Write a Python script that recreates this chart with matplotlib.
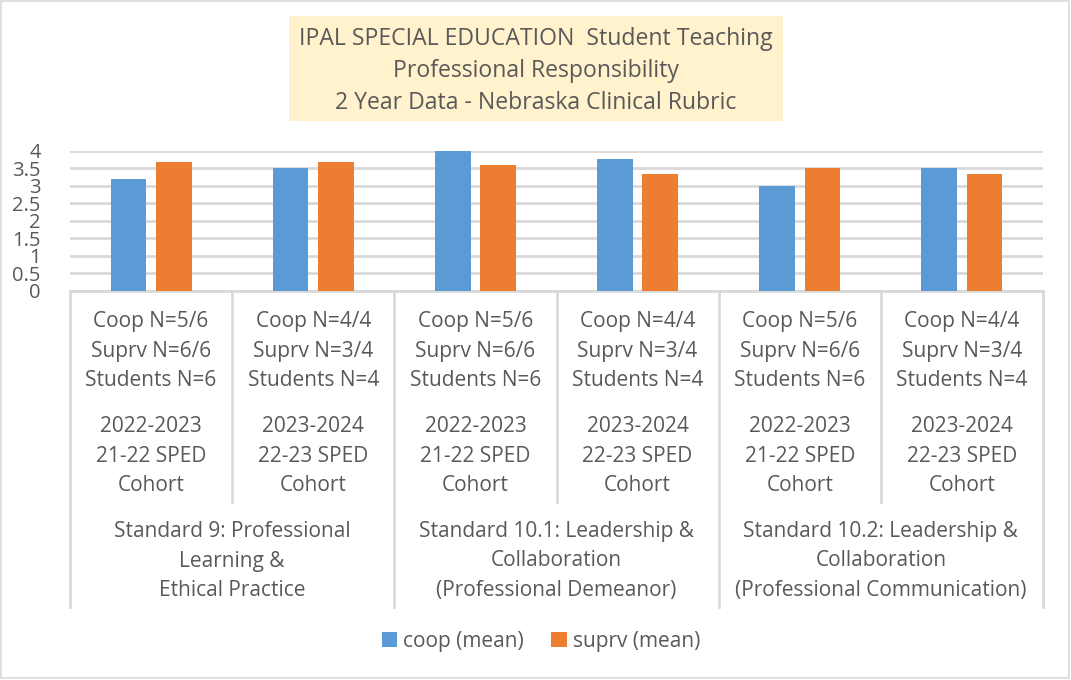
import matplotlib
matplotlib.use("Agg")
import matplotlib.pyplot as plt
from matplotlib.transforms import blended_transform_factory
from matplotlib.patches import Rectangle
import numpy as np

plt.rcParams['font.family'] = ['Open Sans', 'DejaVu Sans']

# ---- data ----
n_labels = ["Coop N=5/6\nSuprv N=6/6\nStudents N=6",
            "Coop N=4/4\nSuprv N=3/4\nStudents N=4",
            "Coop N=5/6\nSuprv N=6/6\nStudents N=6",
            "Coop N=4/4\nSuprv N=3/4\nStudents N=4",
            "Coop N=5/6\nSuprv N=6/6\nStudents N=6",
            "Coop N=4/4\nSuprv N=3/4\nStudents N=4"]
cohort_labels = ["2022-2023\n21-22 SPED\nCohort",
                 "2023-2024\n22-23 SPED\nCohort"] * 3
standards = ["Standard 9: Professional\nLearning &\nEthical Practice",
             "Standard 10.1: Leadership &\nCollaboration\n(Professional Demeanor)",
             "Standard 10.2: Leadership &\nCollaboration\n(Professional Communication)"]
coop_mean = [3.2, 3.5, 4.0, 3.75, 3.0, 3.5]
suprv_mean = [3.67, 3.67, 3.6, 3.33, 3.5, 3.33]
series_names = ["coop (mean)", "suprv (mean)"]
yticks = [0, 0.5, 1, 1.5, 2, 2.5, 3, 3.5, 4]
ytick_labels = ["0", "0.5", "1", "1.5", "2", "2.5", "3", "3.5", "4"]
title_lines = "IPAL SPECIAL EDUCATION  Student Teaching\nProfessional Responsibility\n2 Year Data - Nebraska Clinical Rubric"

W, H = 1071, 680
fig = plt.figure(figsize=(W / 100, H / 100), dpi=100)
TXT = "#595959"
GRID = "#D9D9D9"
BLUE = "#5B9BD5"
ORANGE = "#ED7D31"

def fx(px): return px / W
def fy(py): return 1 - py / H

# border
fig.patches.append(Rectangle((fx(1), fy(678)), fx(1068), (677) / H, transform=fig.transFigure,
                             fill=False, edgecolor=GRID, linewidth=1.2))

ax = fig.add_axes([fx(70), fy(291), fx(1043) - fx(70), fy(150.7) - fy(291)])
x = np.arange(len(coop_mean))
bw = 0.22
ax.bar(x - 0.14, coop_mean, bw, color=BLUE, label=series_names[0], zorder=3)
ax.bar(x + 0.14, suprv_mean, bw, color=ORANGE, label=series_names[1], zorder=3)
ax.set_xlim(-0.5, len(x) - 0.5)
ax.set_ylim(0, 4)
ax.set_yticks(yticks)
ax.set_yticklabels(ytick_labels)
ax.tick_params(axis='y', length=0, pad=21, labelsize=14.5, labelcolor=TXT)
ax.tick_params(axis='x', length=0, labelbottom=False)
ax.yaxis.grid(True, color=GRID, linewidth=2, zorder=0)
for s in ["top", "right", "left"]:
    ax.spines[s].set_visible(False)
ax.spines["bottom"].set_color(GRID)
ax.spines["bottom"].set_linewidth(2)
ax.set_facecolor("none")

tr = blended_transform_factory(ax.transData, fig.transFigure)
# vertical divider lines
for i in range(len(x) + 1):
    xb = i - 0.5
    bottom = 607 if i % 2 == 0 else 502
    ax.plot([xb, xb], [fy(291), fy(bottom)], transform=tr, color=GRID,
            linewidth=2, clip_on=False)

fs = 15
ls = 1.55
for i in range(len(x)):
    ax.text(x[i], fy(351), n_labels[i], transform=tr, ha='center', va='center',
            fontsize=fs, color=TXT, linespacing=ls)
    ax.text(x[i], fy(456), cohort_labels[i], transform=tr, ha='center', va='center',
            fontsize=fs, color=TXT, linespacing=ls)
for j, s in enumerate(standards):
    ax.text(2 * j + 0.5, fy(561), s, transform=tr, ha='center', va='center',
            fontsize=fs, color=TXT, linespacing=ls)

# title box
fig.patches.append(Rectangle((fx(289), fy(121)), fx(783) - fx(289), fy(16) - fy(121),
                             transform=fig.transFigure, facecolor="#FFF2CC", edgecolor="none"))
fig.text(fx(536), fy(71), title_lines, ha='center', va='center', fontsize=16.6,
         color=TXT, linespacing=1.47)

# legend
leg = fig.legend(loc='center', bbox_to_anchor=(fx(541), fy(641)), ncol=2, frameon=False,
                 handlelength=0.75, handleheight=0.75, handletextpad=0.3, columnspacing=1.3,
                 prop={'size': 15})
for t in leg.get_texts():
    t.set_color(TXT)

fig.savefig("out.png", dpi=100)
